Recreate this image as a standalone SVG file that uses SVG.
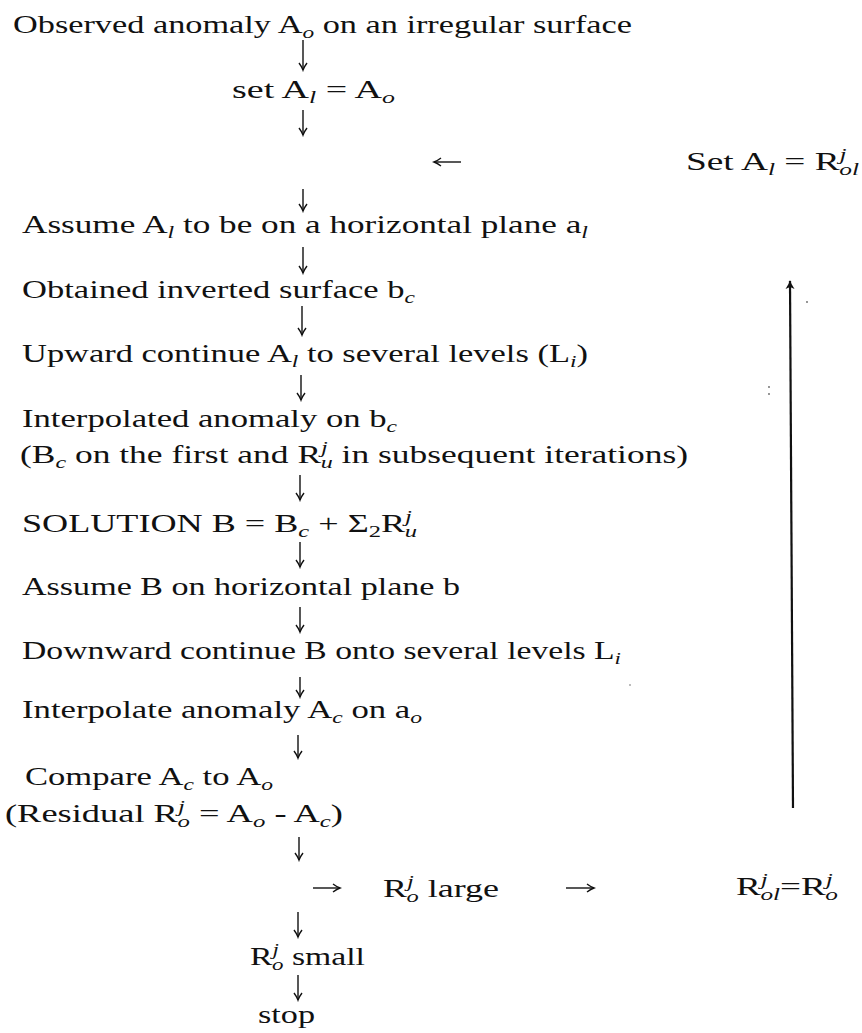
<svg xmlns="http://www.w3.org/2000/svg" width="862" height="1033" viewBox="0 0 862 1033">
<defs>
<style>
.t{font-family:"Liberation Serif","Times New Roman",serif;font-size:25px;fill:#111}
.s{font-size:17px;font-style:italic}
.u{font-size:17px}
.c{stroke:#111;stroke-width:1.4;fill:none}
.loop{stroke:#111;stroke-width:2.2;fill:none}
.n{fill:#666}
</style>
<marker id="ah" markerUnits="userSpaceOnUse" viewBox="-9 -6 11 12" markerWidth="11" markerHeight="12" refX="0" refY="0" orient="auto">
<path d="M-7,-4 Q-3,-1 0,0 Q-3,1 -7,4" fill="none" stroke="#111" stroke-width="1.4"/>
</marker>
<marker id="ahb" markerUnits="userSpaceOnUse" viewBox="-10 -6 12 12" markerWidth="12" markerHeight="12" refX="0" refY="0" orient="auto">
<path d="M-8,-4.5 Q-3,-1 1,0 Q-3,1 -8,4.5 L-6,0 Z" fill="#111"/>
</marker>
</defs>
<rect width="862" height="1033" fill="#fff"/>

<g id="connectors">
<line class="c" x1="303" y1="40" x2="303" y2="70" marker-end="url(#ah)"/>
<line class="c" x1="303" y1="110" x2="303" y2="135" marker-end="url(#ah)"/>
<line class="c" x1="461" y1="162" x2="434" y2="162" marker-end="url(#ah)"/>
<line class="c" x1="303" y1="189" x2="303" y2="211" marker-end="url(#ah)"/>
<line class="c" x1="303" y1="247" x2="303" y2="273" marker-end="url(#ah)"/>
<line class="c" x1="302" y1="306" x2="302" y2="335" marker-end="url(#ah)"/>
<line class="c" x1="301" y1="375" x2="301" y2="400" marker-end="url(#ah)"/>
<line class="c" x1="300" y1="475" x2="300" y2="500" marker-end="url(#ah)"/>
<line class="c" x1="300" y1="542" x2="300" y2="567" marker-end="url(#ah)"/>
<line class="c" x1="300" y1="607" x2="300" y2="632" marker-end="url(#ah)"/>
<line class="c" x1="300" y1="677" x2="300" y2="697" marker-end="url(#ah)"/>
<line class="c" x1="298" y1="735" x2="298" y2="758" marker-end="url(#ah)"/>
<line class="c" x1="299" y1="837" x2="299" y2="860" marker-end="url(#ah)"/>
<line class="c" x1="313" y1="888" x2="340" y2="888" marker-end="url(#ah)"/>
<line class="c" x1="566" y1="888" x2="594" y2="888" marker-end="url(#ah)"/>
<line class="c" x1="298" y1="912" x2="298" y2="937" marker-end="url(#ah)"/>
<line class="c" x1="298" y1="975" x2="298" y2="1000" marker-end="url(#ah)"/>
<line class="loop" x1="793" y1="808" x2="790" y2="281" marker-end="url(#ahb)"/>
</g>

<g id="n1-observed">
<text class="t" x="13" y="33" textLength="619" lengthAdjust="spacingAndGlyphs">Observed anomaly A<tspan class="s" dy="5">o</tspan><tspan dy="-5"> on an irregular surface</tspan></text>
</g>
<g id="n2-set">
<text class="t" x="232" y="98" textLength="163" lengthAdjust="spacingAndGlyphs">set A<tspan class="s" dy="5">l</tspan><tspan dy="-5"> = A</tspan><tspan class="s" dy="5">o</tspan></text>
</g>
<g id="n3-set-residual">
<text class="t" x="686" y="170" textLength="173" lengthAdjust="spacingAndGlyphs">Set A<tspan class="s" dy="5">l</tspan><tspan dy="-5"> = R</tspan><tspan class="s" dy="-10">j</tspan><tspan class="s" dx="-5" dy="15">ol</tspan></text>
</g>
<g id="n4-assume-a">
<text class="t" x="22" y="233" textLength="566" lengthAdjust="spacingAndGlyphs">Assume A<tspan class="s" dy="5">l</tspan><tspan dy="-5"> to be on a horizontal plane a</tspan><tspan class="s" dy="5">l</tspan></text>
</g>
<g id="n5-obtained">
<text class="t" x="22" y="298" textLength="393" lengthAdjust="spacingAndGlyphs">Obtained inverted surface b<tspan class="s" dy="5">c</tspan></text>
</g>
<g id="n6-upward">
<text class="t" x="22" y="362" textLength="566" lengthAdjust="spacingAndGlyphs">Upward continue A<tspan class="s" dy="5">l</tspan><tspan dy="-5"> to several levels (L</tspan><tspan class="s" dy="5">i</tspan><tspan dy="-5">)</tspan></text>
</g>
<g id="n7-interpolated">
<text class="t" x="22" y="427" textLength="375" lengthAdjust="spacingAndGlyphs">Interpolated anomaly on b<tspan class="s" dy="5">c</tspan></text>
<text class="t" x="20" y="463" textLength="668" lengthAdjust="spacingAndGlyphs">(B<tspan class="s" dy="5">c</tspan><tspan dy="-5"> on the first and R</tspan><tspan class="s" dy="-10">j</tspan><tspan class="s" dx="-5" dy="15">u</tspan><tspan dy="-5"> in subsequent iterations)</tspan></text>
</g>
<g id="n8-solution">
<text class="t" x="22" y="532" textLength="395" lengthAdjust="spacingAndGlyphs">SOLUTION B = B<tspan class="s" dy="5">c</tspan><tspan dy="-5"> + Σ</tspan><tspan class="u" dy="5">2</tspan><tspan dy="-5">R</tspan><tspan class="s" dy="-10">j</tspan><tspan class="s" dx="-5" dy="15">u</tspan></text>
</g>
<g id="n9-assume-b">
<text class="t" x="22" y="595" textLength="438" lengthAdjust="spacingAndGlyphs">Assume B on horizontal plane b</text>
</g>
<g id="n10-downward">
<text class="t" x="22" y="659" textLength="599" lengthAdjust="spacingAndGlyphs">Downward continue B onto several levels L<tspan class="s" dy="5">i</tspan></text>
</g>
<g id="n11-interpolate">
<text class="t" x="22" y="718" textLength="400" lengthAdjust="spacingAndGlyphs">Interpolate anomaly A<tspan class="s" dy="5">c</tspan><tspan dy="-5"> on a</tspan><tspan class="s" dy="5">o</tspan></text>
</g>
<g id="n12-compare">
<text class="t" x="25" y="785" textLength="248" lengthAdjust="spacingAndGlyphs">Compare A<tspan class="s" dy="5">c</tspan><tspan dy="-5"> to A</tspan><tspan class="s" dy="5">o</tspan></text>
<text class="t" x="5" y="822" textLength="338" lengthAdjust="spacingAndGlyphs">(Residual R<tspan class="s" dy="-10">j</tspan><tspan class="s" dx="-5" dy="15">o</tspan><tspan dy="-5"> = A</tspan><tspan class="s" dy="5">o</tspan><tspan dy="-5"> - A</tspan><tspan class="s" dy="5">c</tspan><tspan dy="-5">)</tspan></text>
</g>
<g id="n13-large">
<text class="t" x="383" y="897" textLength="116" lengthAdjust="spacingAndGlyphs">R<tspan class="s" dy="-10">j</tspan><tspan class="s" dx="-5" dy="15">o</tspan><tspan dy="-5"> large</tspan></text>
</g>
<g id="n14-rol">
<text class="t" x="736" y="895" textLength="102" lengthAdjust="spacingAndGlyphs">R<tspan class="s" dy="-10">j</tspan><tspan class="s" dx="-5" dy="15">ol</tspan><tspan dy="-5">=R</tspan><tspan class="s" dy="-10">j</tspan><tspan class="s" dx="-5" dy="15">o</tspan></text>
</g>
<g id="n15-small">
<text class="t" x="250" y="965" textLength="115" lengthAdjust="spacingAndGlyphs">R<tspan class="s" dy="-10">j</tspan><tspan class="s" dx="-5" dy="15">o</tspan><tspan dy="-5"> small</tspan></text>
</g>
<g id="n16-stop">
<text class="t" x="258" y="1023" textLength="57" lengthAdjust="spacingAndGlyphs">stop</text>
</g>

<g id="scan-specks">
<circle class="n" cx="807" cy="302" r="0.9"/>
<circle class="n" cx="769" cy="387" r="0.9"/>
<circle class="n" cx="769" cy="394" r="0.9"/>
<circle class="n" cx="630" cy="685" r="0.8"/>
</g>
</svg>
